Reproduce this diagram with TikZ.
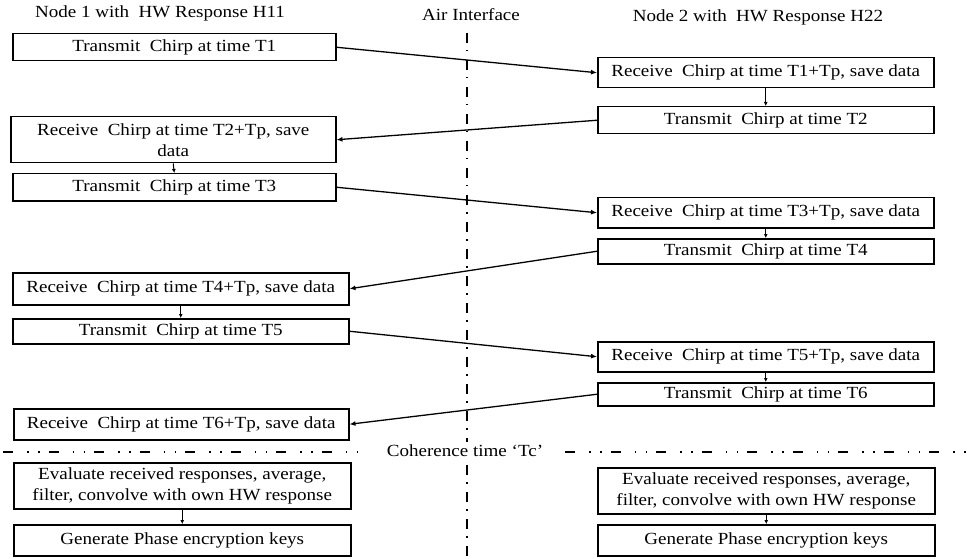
\documentclass[tikz,border=0pt]{standalone}
\usepackage{fontspec}
\setmainfont{Liberation Serif}[FakeStretch=1.12]
\usetikzlibrary{arrows.meta}
\newcommand\dsp{\hspace{0.55em}}
\begin{document}
\begin{tikzpicture}[x=1pt,y=-1pt,
  box/.style={draw,line width=1.5pt,inner sep=0pt,anchor=north west,align=center,font=\fontsize{17}{21}\selectfont},
  link/.style={line width=1.3pt,-{Latex[length=6pt,width=5pt]}},
  vdash/.style={line width=1.2pt,dash pattern=on 10pt off 7pt on 1.5pt off 8.5pt},
  hdash/.style={line width=1.5pt,dash pattern=on 10pt off 14pt on 1.5pt off 9.5pt on 1.5pt off 9pt},
  lbl/.style={font=\fontsize{17}{20}\selectfont,inner sep=0pt}]
\useasboundingbox (0,0) rectangle (967,559);
\fill[white] (0,0) rectangle (967,559);
% headings
\node[lbl] (h1) at (160,13) {Node 1 with\dsp HW Response H11};
\node[lbl] (h2) at (758,17) {Node 2 with\dsp HW Response H22};
\node[lbl] (hair) at (471,15) {Air Interface};
% air interface line
\coordinate (vtop) at (467,33);
\coordinate (vbot) at (467,559);
\draw[vdash] (vtop) -- (vbot);
% left boxes
\node[box,minimum width=323pt,minimum height=27pt] (L1) at (12,33) {Transmit\dsp Chirp at time T1};
\node[box,minimum width=325pt,minimum height=46pt] (L2) at (10,116) {Receive\dsp Chirp at time T2+Tp, save\\data};
\node[box,minimum width=323pt,minimum height=27pt] (L3) at (12,173) {Transmit\dsp Chirp at time T3};
\node[box,minimum width=336pt,minimum height=32pt] (L4) at (12,272) {Receive\dsp Chirp at time T4+Tp, save data};
\node[box,minimum width=336pt,minimum height=25pt] (L5) at (12,318) {Transmit\dsp Chirp at time T5};
\node[box,minimum width=335pt,minimum height=31pt] (L6) at (13,408) {Receive\dsp Chirp at time T6+Tp, save data};
\node[box,minimum width=337pt,minimum height=46pt] (L7) at (13,462) {Evaluate received responses, average,\\filter, convolve with own HW response};
\node[box,minimum width=337pt,minimum height=31pt] (L8) at (13,524) {Generate Phase encryption keys};
% right boxes
\node[box,minimum width=336pt,minimum height=30pt] (R1) at (597,57) {Receive\dsp Chirp at time T1+Tp, save data};
\node[box,minimum width=336pt,minimum height=27pt] (R2) at (597,106) {Transmit\dsp Chirp at time T2};
\node[box,minimum width=336pt,minimum height=30pt] (R3) at (597,197) {Receive\dsp Chirp at time T3+Tp, save data};
\node[box,minimum width=336pt,minimum height=25pt] (R4) at (597,238) {Transmit\dsp Chirp at time T4};
\node[box,minimum width=336pt,minimum height=30pt] (R5) at (597,341) {Receive\dsp Chirp at time T5+Tp, save data};
\node[box,minimum width=336pt,minimum height=23pt] (R6) at (597,382) {Transmit\dsp Chirp at time T6};
\node[box,minimum width=337pt,minimum height=46pt] (R7) at (597,467) {Evaluate received responses, average,\\filter, convolve with own HW response};
\node[box,minimum width=337pt,minimum height=31pt] (R8) at (597,524) {Generate Phase encryption keys};
% coherence line
\node[lbl,fill=white,inner xsep=22pt,inner ysep=3pt] (coh) at (465,451) {Coherence time `Tc'};
\coordinate (cl) at (3,452);
\coordinate (cr) at (967,452);
\draw[hdash] (cl) -- (coh.west |- cl);
\draw[hdash] (coh.east |- cr) -- (cr);
% cross links
\draw[link] (L1.east) -- (R1.west);
\draw[link] (R2.west) -- (L2.east);
\draw[link] (L3.east) -- (R3.west);
\draw[link] (R4.west) -- (L4.east);
\draw[link] (L5.east) -- (R5.west);
\draw[link] (R6.west) -- (L6.east);
% vertical links
\tikzset{vlink/.style={line width=1pt,-{Latex[length=4pt,width=4pt]}}}
\draw[vlink] (R1.south) -- (R2.north);
\draw[vlink] (L2.south) -- (L3.north);
\draw[vlink] (R3.south) -- (R4.north);
\draw[vlink] (L4.south) -- (L5.north);
\draw[vlink] (R5.south) -- (R6.north);
\draw[vlink] (L7.south) -- (L8.north);
\draw[vlink] (R7.south) -- (R8.north);
\end{tikzpicture}
\end{document}
